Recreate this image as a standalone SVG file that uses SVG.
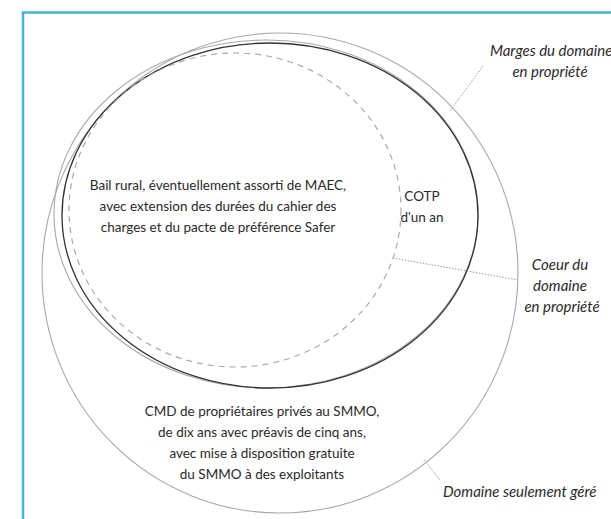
<svg xmlns="http://www.w3.org/2000/svg" width="611" height="519" viewBox="0 0 611 519">
<style>
.t{font-family:Lato,"Liberation Sans",sans-serif;font-size:13.5px;fill:#2a2a2a;text-anchor:middle}
.i{font-family:Lato,"Liberation Sans",sans-serif;font-size:15px;font-style:italic;fill:#2a2a2a}
.gray{fill:none;stroke:#a8a8a8;stroke-width:1.1}
.blk{fill:none;stroke:#333;stroke-width:1.3}
.dash{fill:none;stroke:#b0a8a8;stroke-width:1.2;stroke-dasharray:6 5}
.lead{fill:none;stroke:#9a9a9a;stroke-width:1;stroke-dasharray:1.5 1.5}
</style>
<rect x="0" y="0" width="611" height="519" fill="#fff"/>
<rect x="23" y="12.5" width="600" height="520" fill="none" stroke="#45b4da" stroke-width="2.5"/>
<g id="domaine-gere"><ellipse class="gray" cx="280" cy="273" rx="238" ry="240"/></g>
<g id="marges"><ellipse class="gray" cx="266" cy="214" rx="212" ry="174"/></g>
<g id="coeur-noir"><ellipse class="blk" cx="270" cy="215.5" rx="208" ry="172.5"/></g>
<g id="coeur"><ellipse class="dash" cx="235" cy="210" rx="166" ry="157"/></g>
<g id="connectors">
<path class="lead" d="M483 66 L450 111"/>
<path class="lead" d="M393 258 L518 280"/>
<path class="lead" d="M424 460 L441 481"/>
</g>
<g id="bail">
<text class="t" x="218" y="190">Bail rural, éventuellement assorti de MAEC,</text>
<text class="t" x="218" y="211">avec extension des durées du cahier des</text>
<text class="t" x="218" y="232">charges et du pacte de préférence Safer</text>
</g>
<g id="cotp">
<text class="t" x="422" y="201">COTP</text>
<text class="t" x="422" y="222">d'un an</text>
</g>
<g id="cmd">
<text class="t" x="262" y="416">CMD de propriétaires privés au SMMO,</text>
<text class="t" x="262" y="437">de dix ans avec préavis de cinq ans,</text>
<text class="t" x="262" y="458">avec mise à disposition gratuite</text>
<text class="t" x="262" y="479">du SMMO à des exploitants</text>
</g>
<g id="label-marges">
<text class="i" x="490" y="56">Marges du domaine</text>
<text class="i" x="550" y="77" text-anchor="middle">en propriété</text>
</g>
<g id="label-coeur">
<text class="i" x="560" y="270" text-anchor="middle">Coeur du</text>
<text class="i" x="560" y="291" text-anchor="middle">domaine</text>
<text class="i" x="562" y="312" text-anchor="middle">en propriété</text>
</g>
<g id="label-gere">
<text class="i" x="443" y="497">Domaine seulement géré</text>
</g>
</svg>
